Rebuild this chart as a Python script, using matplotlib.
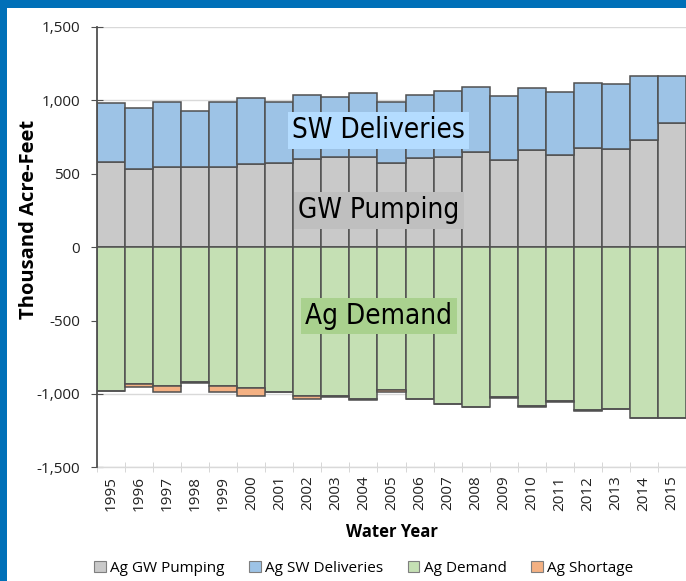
import numpy as np
import matplotlib
matplotlib.use("Agg")
import matplotlib.pyplot as plt
from matplotlib import font_manager
from matplotlib.patches import Rectangle, Patch

years = list(range(1995, 2016))
gw_pumping = [580, 530, 548, 548, 544, 567, 576, 599, 611, 612, 571,
              610, 612, 650, 594, 660, 630, 678, 669, 730, 844]
sw_deliveries = [403, 420, 438, 381, 442, 449, 412, 439, 411, 436, 419,
                 428, 453, 443, 435, 426, 427, 438, 440, 435, 321]
ag_demand = [977, 932, 944, 921, 948, 959, 984, 1011, 1016, 1034, 975,
             1034, 1068, 1088, 1023, 1084, 1050, 1111, 1102, 1161, 1161]
ag_shortage = [3, 20, 40, 6, 38, 57, 2, 25, 5, 10, 12,
               3, 2, 2, 2, 2, 2, 2, 2, 0, 0]

fonts = font_manager.fontManager.ttflist
names = {f.name for f in fonts}
base_font = "Open Sans" if "Open Sans" in names else "DejaVu Sans"

# narrow face for the callouts, whatever is available
narrow = dict(family="Liberation Sans", fontsize=20)
if "Liberation Sans Narrow" in names:
    narrow = dict(family="Liberation Sans Narrow", fontsize=23)
elif any(f.name == "DejaVu Sans" and f.stretch == "condensed" for f in fonts):
    narrow = dict(family="DejaVu Sans", fontstretch="condensed", fontsize=20)

plt.rcParams.update({"font.family": base_font, "font.size": 11})

C_GW = "#c9c9c9"
C_SW = "#9dc3e6"
C_DEM = "#c5e0b4"
C_SHORT = "#f4b183"
EDGE = "#505050"

fig = plt.figure(figsize=(6.86, 5.81), dpi=100)
fig.patch.set_facecolor("white")
ax = fig.add_axes([97 / 686, 1 - 467.3 / 581, 589 / 686, 440.3 / 581])

x = np.arange(len(years))
gw = np.array(gw_pumping)
sw = np.array(sw_deliveries)
dem = -np.array(ag_demand)
short = -np.array(ag_shortage)

kw = dict(width=1.0, edgecolor=EDGE, linewidth=1.1, zorder=3)
ax.bar(x, gw, color=C_GW, label="Ag GW Pumping", **kw)
ax.bar(x, sw, bottom=gw, color=C_SW, label="Ag SW Deliveries", **kw)
ax.bar(x, dem, color=C_DEM, label="Ag Demand", **kw)
ax.bar(x, short, bottom=dem, color=C_SHORT, label="Ag Shortage", **kw)

ax.set_xlim(-0.5, len(years) - 0.5)
ax.set_ylim(-1500, 1500)
ax.set_yticks(np.arange(-1500, 1501, 500))
ax.set_yticklabels([f"{v:,}" for v in range(-1500, 1501, 500)])
ax.grid(axis="y", color="#d9d9d9", linewidth=1.0, zorder=0)
ax.set_axisbelow(True)

ax.set_xticks(x)
ax.set_xticklabels([str(y) for y in years], rotation=90)
ax.set_xticks(np.arange(-0.5, len(years), 1.0), minor=True)
ax.tick_params(axis="x", which="major", length=0, pad=6, labelsize=11, colors="#222222")
ax.tick_params(axis="x", which="minor", length=7, direction="inout", color="#d0d0d0")
ax.tick_params(axis="y", length=8, direction="inout", color=EDGE, pad=8,
               labelsize=11, labelcolor="#222222")

for s in ["top", "right"]:
    ax.spines[s].set_visible(False)
ax.spines["left"].set_color(EDGE)
ax.spines["left"].set_linewidth(1.3)
ax.spines["left"].set_zorder(4)
ax.spines["bottom"].set_color("#d9d9d9")
ax.spines["bottom"].set_linewidth(1.0)

ax.set_ylabel("Thousand Acre-Feet", fontsize=14.5, fontweight="bold")
ax.yaxis.set_label_coords(-(97 - 39) / 589, (467.3 - 219) / 440.3)
ax.set_xlabel("Water Year", fontsize=12, fontweight="bold", labelpad=9)

# Callout labels on top of the bars
lab = dict(ha="center", va="center", zorder=6, **narrow)
ax.text(9.55, 795, "SW Deliveries", bbox=dict(boxstyle="square,pad=0.15", fc="#b4dcff", ec="none"), **lab)
ax.text(9.55, 250, "GW Pumping", bbox=dict(boxstyle="square,pad=0.15", fc="#bfbfbf", ec="none"), **lab)
ax.text(9.55, -470, "Ag Demand", bbox=dict(boxstyle="square,pad=0.15", fc="#a9d18e", ec="none"), **lab)

handles = [Patch(facecolor=c, edgecolor="#7f7f7f", linewidth=0.8, label=l)
           for c, l in [(C_GW, "Ag GW Pumping"), (C_SW, "Ag SW Deliveries"),
                        (C_DEM, "Ag Demand"), (C_SHORT, "Ag Shortage")]]
fig.legend(handles=handles, loc="center", bbox_to_anchor=(364 / 686, 1 - 568 / 581),
           ncol=4, frameon=False, fontsize=11, handlelength=0.75, handleheight=0.75,
           handletextpad=0.3, columnspacing=1.6)

# blue frame strips
fig.patches.append(Rectangle((0, 1 - 8 / 581), 1, 8 / 581, transform=fig.transFigure,
                             facecolor="#0070b8", edgecolor="none", zorder=10))
fig.patches.append(Rectangle((0, 0), 7 / 686, 1, transform=fig.transFigure,
                             facecolor="#0070b8", edgecolor="none", zorder=10))

fig.savefig("out.png", dpi=100)
